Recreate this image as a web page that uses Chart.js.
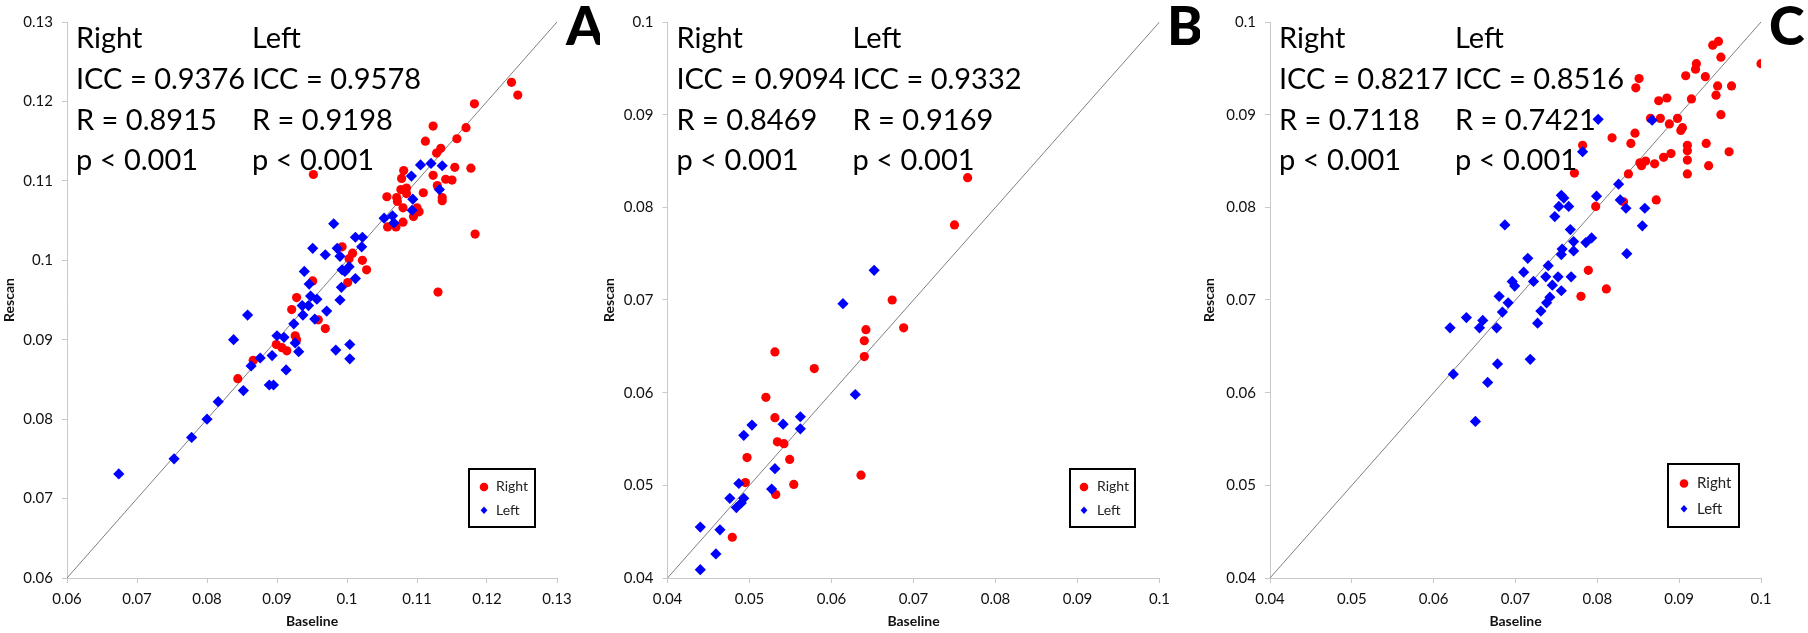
<!DOCTYPE html>
<html>
<head>
<meta charset="utf-8">
<script src="https://cdn.jsdelivr.net/npm/chart.js@4/dist/chart.umd.min.js"></script>
<style>
  html, body { margin: 0; padding: 0; background: #fff; }
  #wrap { position: relative; width: 1808px; height: 633px; }
  .panel { position: absolute; top: 0; height: 633px; }
</style>
</head>
<body>
<div id="wrap">
  <div class="panel" style="left:0;width:600px"><canvas id="chartA" width="600" height="633"></canvas></div>
  <div class="panel" style="left:600px;width:600px"><canvas id="chartB" width="600" height="633"></canvas></div>
  <div class="panel" style="left:1200px;width:608px"><canvas id="chartC" width="608" height="633"></canvas></div>
</div>
<script>
// ---- data (baseline, rescan) ----
const ticksA = [0.06, 0.07, 0.08, 0.09, 0.1, 0.11, 0.12, 0.13];
const ticksBC = [0.04, 0.05, 0.06, 0.07, 0.08, 0.09, 0.1];

const aRight = [
  [0.1235,0.1224],[0.1244,0.1208],[0.1182,0.1197],[0.1123,0.1169],[0.1170,0.1167],[0.1112,0.1150],
  [0.1157,0.1153],[0.1134,0.1141],[0.1128,0.1135],[0.0952,0.1108],[0.1081,0.1113],[0.1078,0.1103],
  [0.1123,0.1107],[0.1141,0.1102],[0.1150,0.1101],[0.1154,0.1117],[0.1177,0.1116],[0.1129,0.1094],
  [0.1077,0.1089],[0.1085,0.1091],[0.1085,0.1084],[0.1057,0.1080],[0.1071,0.1079],[0.1072,0.1074],
  [0.1109,0.1085],[0.1136,0.1079],[0.1136,0.1075],[0.1080,0.1066],[0.1100,0.1066],[0.1103,0.1061],
  [0.1095,0.1055],[0.1080,0.1048],[0.1058,0.1042],[0.1070,0.1042],[0.1183,0.1033],[0.1130,0.0960],
  [0.0993,0.1017],[0.1008,0.1009],[0.1022,0.1000],[0.1028,0.0988],[0.1003,0.1002],[0.1001,0.0972],
  [0.0951,0.0974],[0.0928,0.0953],[0.0921,0.0938],[0.0959,0.0925],[0.0969,0.0914],[0.0926,0.0905],
  [0.0928,0.0900],[0.0899,0.0894],[0.0907,0.0890],[0.0914,0.0886],[0.0866,0.0874],[0.0844,0.0851]
];
const aLeft = [
  [0.0674,0.0731],[0.0753,0.0750],[0.0778,0.0777],[0.0800,0.0800],[0.0816,0.0822],[0.0852,0.0836],
  [0.0838,0.0900],[0.0858,0.0931],[0.0863,0.0867],[0.0876,0.0877],[0.0893,0.0880],[0.0889,0.0843],
  [0.0895,0.0843],[0.0913,0.0862],[0.0900,0.0905],[0.0910,0.0903],[0.0926,0.0896],[0.0931,0.0885],
  [0.0924,0.0920],[0.0937,0.0931],[0.0936,0.0943],[0.0945,0.0943],[0.0948,0.0955],[0.0957,0.0951],
  [0.0954,0.0926],[0.0971,0.0936],[0.0946,0.0970],[0.0939,0.0986],[0.0951,0.1015],[0.0969,0.1007],
  [0.0981,0.1046],[0.0986,0.1015],[0.0990,0.1005],[0.0993,0.0988],[0.0997,0.0986],[0.1003,0.0992],
  [0.0992,0.0966],[0.0990,0.0950],[0.0984,0.0887],[0.1004,0.0894],[0.1004,0.0876],[0.1012,0.0977],
  [0.1012,0.1029],[0.1022,0.1029],[0.1021,0.1017],[0.1053,0.1053],[0.1065,0.1056],[0.1067,0.1047],
  [0.1092,0.1106],[0.1094,0.1077],[0.1093,0.1063],[0.1105,0.1120],[0.1120,0.1122],[0.1136,0.1119],
  [0.1132,0.1089]
];

const bRight = [
  [0.0766,0.0832],[0.0750,0.0781],[0.0674,0.0700],[0.0688,0.0670],[0.0642,0.0668],[0.0640,0.0656],
  [0.0640,0.0639],[0.0531,0.0644],[0.0579,0.0626],[0.0520,0.0595],[0.0531,0.0573],[0.0534,0.0547],
  [0.0542,0.0545],[0.0497,0.0530],[0.0549,0.0528],[0.0495,0.0503],[0.0554,0.0501],[0.0532,0.0490],
  [0.0636,0.0511],[0.0479,0.0444]
];
const bLeft = [
  [0.0652,0.0732],[0.0614,0.0696],[0.0629,0.0598],[0.0562,0.0574],[0.0562,0.0561],[0.0541,0.0566],
  [0.0503,0.0565],[0.0493,0.0554],[0.0531,0.0518],[0.0527,0.0496],[0.0487,0.0502],[0.0476,0.0486],
  [0.0493,0.0486],[0.0490,0.0481],[0.0484,0.0476],[0.0440,0.0455],[0.0464,0.0452],[0.0459,0.0426],
  [0.0440,0.0409]
];

const cRight = [
  [0.1000,0.0955],[0.0948,0.0979],[0.0941,0.0975],[0.0951,0.0962],[0.0921,0.0955],[0.0920,0.0949],
  [0.0908,0.0942],[0.0932,0.0941],[0.0851,0.0939],[0.0847,0.0929],[0.0947,0.0931],[0.0964,0.0931],
  [0.0945,0.0921],[0.0915,0.0917],[0.0875,0.0915],[0.0885,0.0918],[0.0951,0.0900],[0.0898,0.0896],
  [0.0877,0.0896],[0.0865,0.0896],[0.0888,0.0890],[0.0904,0.0886],[0.0902,0.0883],[0.0846,0.0880],
  [0.0818,0.0875],[0.0841,0.0869],[0.0933,0.0869],[0.0910,0.0867],[0.0910,0.0861],[0.0961,0.0860],
  [0.0782,0.0867],[0.0890,0.0858],[0.0881,0.0854],[0.0859,0.0850],[0.0852,0.0848],[0.0854,0.0845],
  [0.0870,0.0847],[0.0910,0.0851],[0.0936,0.0845],[0.0838,0.0836],[0.0910,0.0836],[0.0772,0.0837],
  [0.0872,0.0808],[0.0832,0.0806],[0.0798,0.0801],[0.0789,0.0732],[0.0780,0.0704],[0.0811,0.0712]
];
const cLeft = [
  [0.0801,0.0895],[0.0867,0.0894],[0.0782,0.0860],[0.0826,0.0825],[0.0799,0.0812],[0.0828,0.0808],
  [0.0835,0.0799],[0.0858,0.0799],[0.0855,0.0780],[0.0836,0.0750],[0.0756,0.0813],[0.0759,0.0810],
  [0.0753,0.0801],[0.0765,0.0801],[0.0748,0.0790],[0.0687,0.0781],[0.0767,0.0776],[0.0771,0.0763],
  [0.0786,0.0762],[0.0793,0.0767],[0.0757,0.0755],[0.0756,0.0749],[0.0771,0.0753],[0.0715,0.0745],
  [0.0740,0.0737],[0.0710,0.0730],[0.0737,0.0725],[0.0752,0.0725],[0.0768,0.0725],[0.0722,0.0720],
  [0.0696,0.0720],[0.0699,0.0715],[0.0745,0.0716],[0.0756,0.0710],[0.0680,0.0704],[0.0742,0.0703],
  [0.0738,0.0697],[0.0691,0.0697],[0.0684,0.0687],[0.0731,0.0688],[0.0640,0.0681],[0.0660,0.0678],
  [0.0620,0.0670],[0.0656,0.0670],[0.0677,0.0670],[0.0727,0.0675],[0.0718,0.0636],[0.0678,0.0631],
  [0.0624,0.0620],[0.0666,0.0611],[0.0651,0.0569]
];

const statsA = [['Right', 'ICC = 0.9376', 'R = 0.8915', 'p < 0.001'], ['Left', 'ICC = 0.9578', 'R = 0.9198', 'p < 0.001']];
const statsB = [['Right', 'ICC = 0.9094', 'R = 0.8469', 'p < 0.001'], ['Left', 'ICC = 0.9332', 'R = 0.9169', 'p < 0.001']];
const statsC = [['Right', 'ICC = 0.8217', 'R = 0.7118', 'p < 0.001'], ['Left', 'ICC = 0.8516', 'R = 0.7421', 'p < 0.001']];

const seriesNames = ['Right', 'Left'];
const FONT = 'Lato, "Open Sans", sans-serif';

const toPts = arr => arr.map(p => ({ x: p[0], y: p[1] }));

// text, legend box and panel letter
const overlayPlugin = {
  id: 'overlay',
  afterDraw(chart, args, o) {
    const ctx = chart.ctx;
    const a = chart.chartArea;
    ctx.save();
    ctx.fillStyle = '#000';
    ctx.textBaseline = 'middle';
    ctx.font = '29px ' + FONT;
    o.stats.forEach((col, c) => {
      col.forEach((t, i) => ctx.fillText(t, a.left + (c ? 185 : 9), a.top + 17 + i * 40.7));
    });

    // legend
    const lg = o.legend;
    const bx = a.right - lg.dx, by = a.bottom - lg.dy;
    ctx.lineWidth = 2;
    ctx.strokeStyle = '#000';
    ctx.strokeRect(bx, by, lg.w, lg.h);
    ctx.font = lg.font + 'px ' + FONT;
    ctx.fillStyle = '#222';
    const r1 = by + lg.h * 0.31, r2 = by + lg.h * 0.71;
    ctx.fillText(seriesNames[0], bx + lg.tx, r1);
    ctx.fillText(seriesNames[1], bx + lg.tx, r2);
    ctx.fillStyle = '#FF0000';
    ctx.beginPath();
    ctx.arc(bx + lg.mx, r1, 4.3, 0, Math.PI * 2);
    ctx.fill();
    ctx.fillStyle = '#0000FF';
    ctx.beginPath();
    ctx.moveTo(bx + lg.mx, r2 - 3.8);
    ctx.lineTo(bx + lg.mx + 3.4, r2);
    ctx.lineTo(bx + lg.mx, r2 + 3.8);
    ctx.lineTo(bx + lg.mx - 3.4, r2);
    ctx.closePath();
    ctx.fill();

    // panel letter
    ctx.fillStyle = '#000';
    ctx.textBaseline = 'alphabetic';
    ctx.font = '900 54px ' + FONT;
    ctx.fillText(o.letter, o.letterX, 45);
    ctx.restore();
  }
};

function axis(ticks, title, horizontal, size) {
  return {
    type: 'linear',
    min: ticks[0],
    max: ticks[ticks.length - 1],
    afterBuildTicks: s => { s.ticks = ticks.map(v => ({ value: v })); },
    afterFit: s => { if (horizontal) s.height = size; else s.width = size; },
    border: { color: '#C8C8C8', width: 1 },
    grid: { drawOnChartArea: false, drawTicks: true, tickLength: 5, color: '#C8C8C8' },
    ticks: {
      color: '#111',
      padding: horizontal ? 7 : 9,
      font: { family: FONT, size: 15 },
      callback: v => String(parseFloat(v.toFixed(2)))
    },
    title: {
      display: true,
      text: title,
      color: '#111',
      font: { family: FONT, size: 14, weight: 'bold' },
      padding: horizontal ? { top: 0, bottom: 3 } : { top: 1, bottom: 0 }
    }
  };
}

function makePanel(id, ticks, right, left, stats, cfg) {
  const lo = ticks[0], hi = ticks[ticks.length - 1];
  new Chart(document.getElementById(id), {
    type: 'scatter',
    data: {
      datasets: [
        { label: 'Left', data: toPts(left), backgroundColor: '#0000FF', borderWidth: 0, pointStyle: 'rectRot', pointRadius: 5.6 },
        { label: 'Right', data: toPts(right), backgroundColor: '#FF0000', borderWidth: 0, pointStyle: 'circle', pointRadius: 4.6 },
        { type: 'line', label: 'identity', data: [{ x: lo, y: lo }, { x: hi, y: hi }], borderColor: '#7F7F7F', borderWidth: 1, pointRadius: 0, fill: false }
      ]
    },
    options: {
      responsive: false,
      animation: false,
      devicePixelRatio: 1,
      layout: { padding: { left: 0, right: cfg.padRight, top: 22, bottom: 0 } },
      scales: {
        x: axis(ticks, 'Baseline', true, 55),
        y: axis(ticks, 'Rescan', false, cfg.yWidth)
      },
      plugins: {
        legend: { display: false },
        tooltip: { enabled: false },
        overlay: { stats: stats, letter: cfg.letter, letterX: cfg.letterX, legend: cfg.legend }
      }
    },
    plugins: [overlayPlugin]
  });
}

makePanel('chartA', ticksA, aRight, aLeft, statsA, {
  yWidth: 67, padRight: 43, letter: 'A', letterX: 566,
  legend: { dx: 88, dy: 109, w: 66, h: 58, tx: 27, mx: 15, font: 14 }
});
makePanel('chartB', ticksBC, bRight, bLeft, statsB, {
  yWidth: 67.5, padRight: 40.5, letter: 'B', letterX: 567,
  legend: { dx: 89.5, dy: 109, w: 65, h: 58, tx: 27, mx: 14, font: 14 }
});
makePanel('chartC', ticksBC, cRight, cLeft, statsC, {
  yWidth: 70, padRight: 47, letter: 'C', letterX: 569,
  legend: { dx: 93, dy: 114, w: 71, h: 63, tx: 29, mx: 16, font: 15 }
});
</script>
</body>
</html>
